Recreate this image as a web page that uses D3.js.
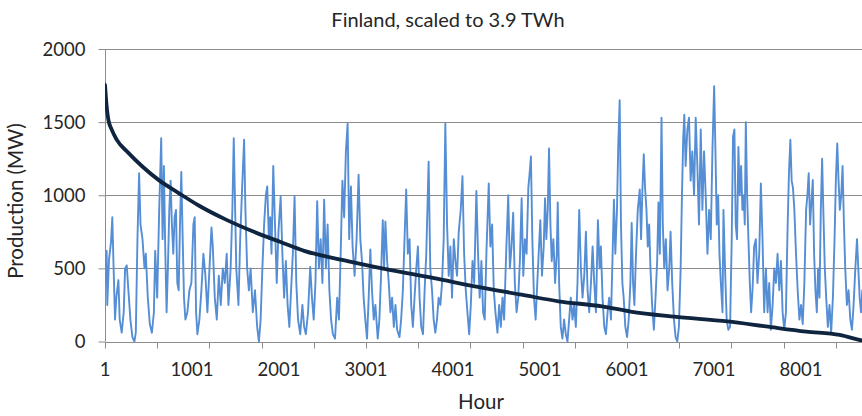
<!DOCTYPE html>
<html>
<head>
<meta charset="utf-8">
<script src="https://cdn.jsdelivr.net/npm/d3@7"></script>
<style>
  html, body { margin: 0; padding: 0; background: #fff; }
  svg { display: block; }
  text { font-family: Lato, "Open Sans", sans-serif; fill: #262626; }
</style>
</head>
<body>
<svg id="chart" width="862" height="416"></svg>
<script>
// ---------- DATA ----------
const chartTitle = "Finland, scaled to 3.9 TWh";
const yAxisTitle = "Production (MW)";
const xAxisTitle = "Hour";
const yTicks = [0, 500, 1000, 1500, 2000];
const xTickLabels = [1, 1001, 2001, 3001, 4001, 5001, 6001, 7001, 8001];
const xTickMarks = [1, 601, 1201, 1801, 2401, 3001, 3601, 4201, 4801, 5401, 6001, 6601, 7201, 7801, 8401];

// Hourly production (read at turning points)
const hours = [1,20,27,47,70,85,100,116,131,155,170,193,216,232,251,270,293,316,339,355,374,393,409,432,455,470,493,516,540,563,578,601,624,647,663,678,693,709,724,740,755,770,786,801,817,832,848,863,878,894,909,925,948,971,994,1017,1032,1048,1063,1086,1109,1132,1155,1178,1202,1225,1240,1263,1286,1309,1332,1355,1378,
1400,1420,1445,1465,1481,1497,1510,1535,1555,1577,1600,1615,1635,1655,1675,1700,1725,1750,1770,1790,1810,1830,1850,1866,1885,1900,1915,1935,1955,1975,1995,2020,2040,2060,2080,2100,2120,2140,2160,2180,2200,2220,2245,2270,2290,2310,2335,2360,2380,2400,2420,2440,2460,2480,2500,2520,2540,2560,2580,2600,2620,2645,2670,2690,2710,2730,2750,2770,2790,
2808,2828,2847,2870,2893,2916,2936,2955,2974,2993,3013,3032,3051,3070,3090,3109,3136,3155,3174,3194,3209,3224,3244,3263,3282,3301,3321,3340,3359,3386,3405,3425,3444,3463,3482,3502,3521,3540,3559,3579,3598,3617,3636,3656,3675,3694,3721,3740,3760,3779,3798,3817,3836,3856,3875,3894,3913,3933,3952,3971,3990,4010,4029,4048,4067,4090,4110,4129,4148,4167,4187,4206,
4225,4245,4270,4289,4308,4328,4347,4366,4385,4412,4431,4451,4470,4489,4512,4532,4551,4570,4589,4612,4636,4655,4674,4693,4712,4732,4751,4770,4790,4809,4828,4847,4867,4882,4897,4913,4932,4951,4970,4990,5005,5024,5044,5059,5074,5090,5105,5121,5136,5155,5175,5194,5205,5221,5240,5259,5278,5298,5317,5336,5355,5375,5394,5413,5432,5452,5471,5490,5510,5529,5548,5567,5587,5606,5625,5644,
5667,5686,5701,5720,5740,5759,5778,5797,5817,5836,5851,5867,5886,5901,5917,5932,5948,5963,5982,6002,6021,6040,6055,6071,6086,6105,6125,6148,6163,6179,6194,6209,6225,6240,6256,6271,6290,6310,6329,6348,6363,6379,6398,6413,6429,6448,6467,6487,6502,6521,6541,6560,6579,6598,6618,6633,6648,6660,6675,6695,6714,6733,6752,6772,6791,6810,6829,6849,6868,6887,6906,6926,6945,6964,6983,7003,7018,7033,7049,7064,7080,7099,
7110,7128,7147,7166,7186,7205,7220,7236,7251,7266,7282,7297,7313,7328,7343,7355,7367,7382,7397,7413,7428,7444,7463,7482,7501,7521,7540,7559,7578,7598,7617,7636,7655,7675,7694,7713,7732,7752,7771,7790,7809,7828,7848,7863,7879,7894,7909,7925,7944,7963,7983,8002,8021,8040,8060,8075,8090,8106,8121,8137,8152,8167,8183,8198,8214,8229,8244,8260,8275,8291,8310,8329,8348,8368,8387,8402,8418,8433,8448,8464,8479,8495,8510,8529,8548,8568,8587,8606,8626,8645,8660,8676,8691,8706,8722,8737,8760];

const production = [400,620,250,560,680,850,500,150,300,420,150,60,200,500,520,350,150,30,0,60,700,1150,800,700,500,600,300,120,60,200,620,300,900,1390,700,1200,650,200,500,900,1100,800,600,850,900,400,350,800,1160,700,300,150,200,350,400,800,850,200,50,150,350,600,450,200,500,780,650,300,150,450,250,500,400,
600,250,500,900,1390,900,500,250,700,1050,1380,900,500,350,500,200,350,100,0,150,500,800,1000,1060,700,850,600,1200,800,400,750,990,600,300,550,250,100,350,600,990,400,150,50,250,100,50,200,510,300,150,400,960,500,700,400,970,500,800,350,150,50,20,300,150,600,1100,850,1300,1490,
700,1060,650,450,700,1140,700,550,300,150,20,300,630,350,150,250,20,150,450,830,500,820,550,400,200,300,100,250,80,30,150,350,700,1040,600,700,250,100,300,500,650,300,100,50,350,600,1230,500,350,150,60,150,300,250,400,700,1490,800,450,650,300,700,550,450,750,900,1130,600,350,200,50,250,
550,400,1030,600,300,550,200,150,600,1080,650,800,350,200,60,250,100,300,150,600,1000,500,650,880,400,200,300,550,980,450,700,600,1050,1150,1265,700,300,150,400,650,830,450,650,980,700,900,1320,800,550,700,400,600,950,400,100,20,150,50,0,150,300,150,250,100,400,900,500,300,450,750,350,200,400,650,400,200,
830,500,650,300,100,50,200,300,150,600,970,600,900,1350,1650,800,400,300,100,30,150,400,810,400,250,600,900,1040,700,1050,1280,1050,900,650,800,500,250,80,300,550,950,600,1530,800,500,700,350,500,750,400,150,30,0,100,500,1000,1400,1550,1200,1450,1530,1100,1300,1000,1530,1200,800,1450,900,1300,1000,600,900,700,1300,1745,1300,800,1000,600,400,200,
900,500,150,80,100,700,1400,1450,800,700,1330,1000,1200,900,1000,800,1500,1000,700,400,200,350,650,700,400,600,1080,700,200,500,200,400,80,250,500,400,600,350,550,200,80,200,800,1150,1380,1100,1050,900,600,350,150,250,120,400,900,1000,1150,800,950,1105,600,350,200,500,300,900,1250,850,500,300,100,250,60,300,700,1100,1355,1100,900,1000,1200,800,500,250,350,150,80,250,500,700,500,300,200,350,150,100,150];

// Duration curve (sorted production)
const durationHours = [1,10,25,40,77,135,270,424,616,848,1078,1386,1712,2020,2290,2830,3270,3770,4270,4790,5213,5714,6040,6541,7157,7598,8060,8445,8714,8760];
const durationMW    = [1755,1680,1580,1515,1450,1380,1290,1200,1105,1015,930,835,750,680,620,545,490,435,375,320,275,240,205,170,137,103,68,45,5,0];

// ---------- CHART ----------
const svg = d3.select("#chart");
const W = 862, H = 416;
const x = d3.scaleLinear().domain([1, 8760]).range([105, 867]);
const y = d3.scaleLinear().domain([0, 2000]).range([341.5, 49]);
const gridColor = "#8c8c8c";

// gridlines
svg.append("g").selectAll("line").data(yTicks.filter(d => d > 0)).join("line")
  .attr("x1", 106).attr("x2", W)
  .attr("y1", d => Math.round(y(d)) + 0.5).attr("y2", d => Math.round(y(d)) + 0.5)
  .attr("stroke", gridColor).attr("stroke-width", 1);

// y axis
const yAxis = svg.append("g").attr("transform", "translate(105.5,0)")
  .call(d3.axisLeft(y).tickValues(yTicks).tickSize(7).tickPadding(13).tickFormat(d3.format("d")));
yAxis.select(".domain").attr("stroke", gridColor).attr("d", `M0,${y(2000)}V${y(0)}`);
yAxis.selectAll(".tick line").attr("stroke", gridColor);
yAxis.selectAll(".tick text").style("font-size", "18.5px").attr("fill", "#262626").attr("dy", "0.34em");

// x axis
const xAxis = svg.append("g").attr("transform", `translate(0,${Math.round(y(0)) + 0.5})`);
xAxis.append("line").attr("x1", 105).attr("x2", W).attr("stroke", gridColor);
xAxis.selectAll(".xtick").data(xTickMarks).join("line")
  .attr("x1", d => Math.round(x(d)) + 0.5).attr("x2", d => Math.round(x(d)) + 0.5)
  .attr("y1", 0).attr("y2", 6).attr("stroke", gridColor);
xAxis.selectAll(".xlab").data(xTickLabels).join("text")
  .attr("x", d => x(d)).attr("y", 33.5)
  .attr("text-anchor", "middle").style("font-size", "18.5px")
  .text(d => d);

// lines
svg.append("clipPath").attr("id", "plotclip").append("rect")
  .attr("x", 105).attr("y", 0).attr("width", W - 105).attr("height", 342);
const plot = svg.append("g").attr("clip-path", "url(#plotclip)");

const line = d3.line().x(d => x(d[0])).y(d => y(d[1]));
plot.append("path")
  .datum(hours.map((h, i) => [h, production[i]]))
  .attr("d", line).attr("fill", "none")
  .attr("stroke", "#558ed5").attr("stroke-width", 1.9).attr("stroke-linejoin", "round");

plot.append("path")
  .datum(durationHours.map((h, i) => [h, durationMW[i]]))
  .attr("d", d3.line().curve(d3.curveMonotoneX).x(d => x(d[0])).y(d => y(d[1])))
  .attr("fill", "none").attr("stroke", "#0f243e").attr("stroke-width", 3.8)
  .attr("stroke-linecap", "round");

// titles
svg.append("text").attr("x", 448).attr("y", 26.5).attr("text-anchor", "middle")
  .style("font-size", "20px").text(chartTitle);
svg.append("text").attr("transform", "rotate(-90)").attr("x", -201).attr("y", 23)
  .attr("text-anchor", "middle").style("font-size", "20.5px").text(yAxisTitle);
svg.append("text").attr("x", 481).attr("y", 409).attr("text-anchor", "middle")
  .style("font-size", "20.5px").text(xAxisTitle);
</script>
</body>
</html>
